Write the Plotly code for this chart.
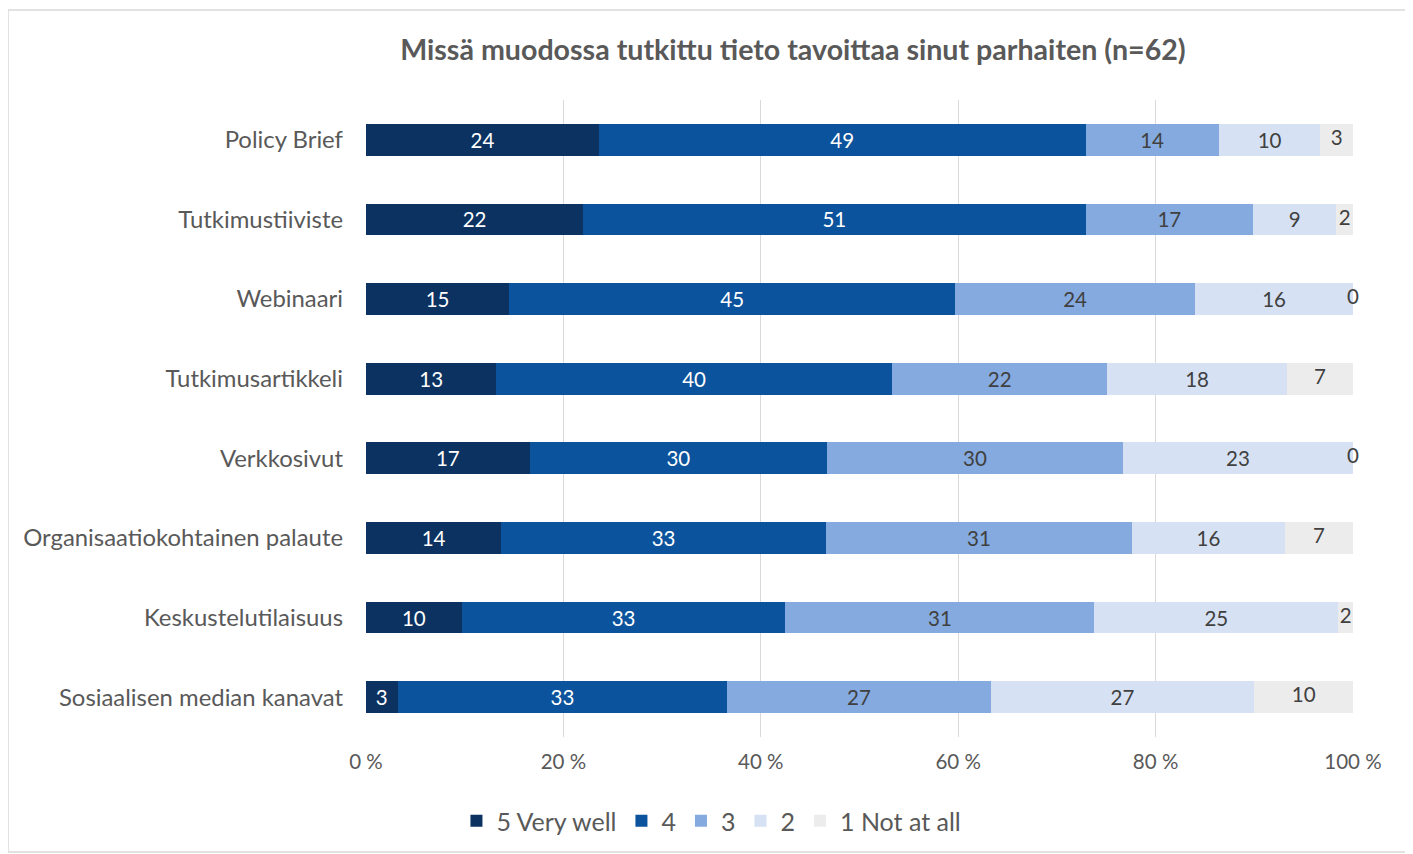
import plotly.graph_objects as go

categories = [
    "Policy Brief",
    "Tutkimustiiviste",
    "Webinaari",
    "Tutkimusartikkeli",
    "Verkkosivut",
    "Organisaatiokohtainen palaute",
    "Keskustelutilaisuus",
    "Sosiaalisen median kanavat",
]

series_names = ["5 Very well", "4", "3", "2", "1 Not at all"]

# Percent shares
v5 = [23.6, 22.0, 14.5, 13.2, 16.6, 13.7, 9.7, 3.2]
v4 = [49.3, 50.9, 45.2, 40.1, 30.1, 32.9, 32.8, 33.4]
v3 = [13.5, 17.0, 24.3, 21.8, 30.0, 31.0, 31.3, 26.7]
v2 = [10.3, 8.4, 16.0, 18.2, 23.3, 15.5, 24.7, 26.7]
v1 = [3.3, 1.7, 0.0, 6.7, 0.0, 6.9, 1.5, 10.0]

# Data labels as printed on the chart
l5 = [24, 22, 15, 13, 17, 14, 10, 3]
l4 = [49, 51, 45, 40, 30, 33, 33, 33]
l3 = [14, 17, 24, 22, 30, 31, 31, 27]
l2 = [10, 9, 16, 18, 23, 16, 25, 27]
l1 = [3, 2, 0, 7, 0, 7, 2, 10]

tick_vals = [0, 20, 40, 60, 80, 100]
tick_text = ["0 %", "20 %", "40 %", "60 %", "80 %", "100 %"]

colors = ["#0b3260", "#0b539c", "#84aadf", "#d6e2f3", "#ececec"]
text_colors = ["#ffffff", "#ffffff", "#404040", "#404040", "#404040"]

FONT = "Lato"
LABEL_SIZE = 20.5
values = [v5, v4, v3, v2, v1]
labels = [l5, l4, l3, l2, l1]

fig = go.Figure()
for i, name in enumerate(series_names):
    last = i == len(series_names) - 1
    fig.add_trace(go.Bar(
        y=categories,
        x=values[i],
        name=name,
        orientation="h",
        marker=dict(color=colors[i], line=dict(width=0)),
        text=None if last else [str(t) for t in labels[i]],
        textposition="inside",
        insidetextanchor="middle",
        textangle=0,
        constraintext="none",
        textfont=dict(family=FONT, size=LABEL_SIZE, color=text_colors[i]),
        hoverinfo="skip",
    ))

# labels of the last (narrow / empty) segments, centred on the segment like Excel
before_last = [a + b + c + d for a, b, c, d in zip(v5, v4, v3, v2)]
mid_last = [s + w / 2 for s, w in zip(before_last, v1)]
fig.add_trace(go.Scatter(
    x=mid_last,
    y=categories,
    mode="text",
    text=[str(t) for t in l1],
    textposition="middle center",
    textfont=dict(family=FONT, size=LABEL_SIZE, color=text_colors[4]),
    showlegend=False,
    cliponaxis=False,
    hoverinfo="skip",
))

fig.update_layout(
    width=1413,
    height=854,
    barmode="stack",
    bargap=0.6,
    paper_bgcolor="white",
    plot_bgcolor="white",
    margin=dict(l=358, r=68, t=92, b=125),
    font=dict(family=FONT, color="#595959"),
    title=dict(
        text="<b>Missä muodossa tutkittu tieto tavoittaa sinut parhaiten (n=62)</b>",
        x=0.4326, xref="paper", xanchor="center",
        y=1 - 42 / 854, yref="container", yanchor="middle",
        font=dict(family=FONT, size=28.6, color="#595959"),
    ),
    xaxis=dict(
        range=[0, 100],
        tickvals=tick_vals,
        ticktext=tick_text,
        showgrid=True,
        gridcolor="#d9d9d9",
        gridwidth=1,
        zeroline=False,
        showline=False,
        ticks="",
        ticklabelstandoff=10,
        tickfont=dict(family=FONT, size=20.5, color="#595959"),
        fixedrange=True,
    ),
    yaxis=dict(
        autorange="reversed",
        showgrid=False,
        zeroline=False,
        showline=False,
        ticks="",
        ticklabelstandoff=22,
        tickfont=dict(family=FONT, size=23.9, color="#595959"),
    ),
    legend=dict(
        orientation="h",
        x=0.35, xanchor="center",
        y=-0.132, yanchor="middle",
        traceorder="normal",
        font=dict(family=FONT, size=25, color="#595959"),
        itemwidth=30,
        bgcolor="rgba(0,0,0,0)",
    ),
    shapes=[dict(
        type="rect", xref="paper", yref="paper",
        x0=-0.3627, x1=1.0557, y0=-0.1805, y1=1.1413,
        line=dict(color="#d9d9d9", width=1.5),
        fillcolor="rgba(0,0,0,0)",
        layer="below",
    )],
)

fig.write_html("out.html")
